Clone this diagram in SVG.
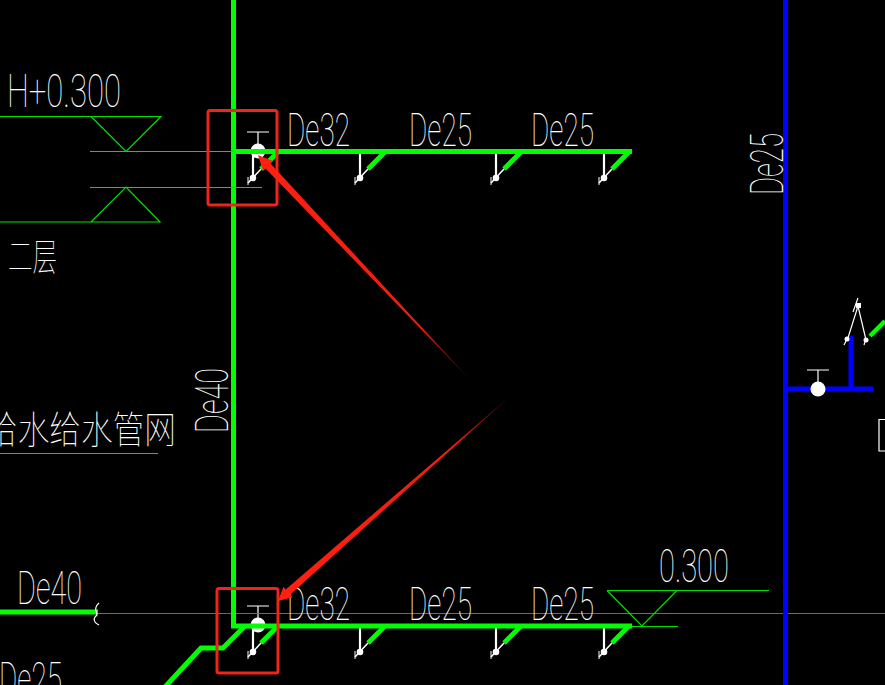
<svg xmlns="http://www.w3.org/2000/svg" width="885" height="685" viewBox="0 0 885 685">
<style>
.t{font-family:"Roboto","Liberation Sans",sans-serif;font-weight:100;font-size:46px;fill:#fff}
.c{font-family:"Noto Sans CJK SC",sans-serif;font-weight:100;font-size:38px;fill:#fff}
.g{stroke:#00ff00;stroke-width:5;fill:none}
.b{stroke:#0000ff;stroke-width:5;fill:none}
.tg{stroke:#00e000;stroke-width:1.2;fill:none}
.m{stroke:#c828c8;stroke-width:1;fill:none}
.w{stroke:#fff;stroke-width:1.2;fill:none}
.r{fill:none;stroke:#f02418;stroke-width:3}
</style>
<defs>
<linearGradient id="fa" gradientUnits="userSpaceOnUse" x1="262" y1="160" x2="475" y2="385"><stop offset="0" stop-color="#ff2010"/><stop offset="0.75" stop-color="#f01c10"/><stop offset="1" stop-color="#100000"/></linearGradient>
<linearGradient id="fb" gradientUnits="userSpaceOnUse" x1="282" y1="596" x2="515" y2="392"><stop offset="0" stop-color="#ff2010"/><stop offset="0.75" stop-color="#f01c10"/><stop offset="1" stop-color="#100000"/></linearGradient>
<g id="branch">
<path d="M0 0V22" stroke="#fff" stroke-width="2.200" fill="none"/>
<path d="M25-2L8 15" stroke="#00ff00" stroke-width="5" fill="none"/>
<path d="M8 15L-5 29" stroke="#fff" stroke-width="1.500" fill="none"/>
<circle cx="0" cy="24" r="3.300" fill="#fff"/>
<path d="M-5 23V31" stroke="#fff" stroke-width="1" fill="none"/>
</g>
<g id="valve">
<circle cx="0" cy="0" r="7.500" fill="#fff"/>
<path d="M0-7V-19M-11-19H11" stroke="#fff" stroke-width="1.200" fill="none"/>
</g>
</defs>
<rect width="885" height="685" fill="#000"/>
<g id="fixtures-top">
<use href="#valve" x="258" y="151"/>
<use href="#branch" x="253" y="154"/><use href="#branch" x="360" y="154"/><use href="#branch" x="496" y="154"/><use href="#branch" x="604" y="154"/>
</g>
<g id="fixtures-bottom">
<use href="#valve" x="258" y="625"/>
<use href="#branch" x="253" y="628"/><use href="#branch" x="360" y="628"/><use href="#branch" x="496" y="628"/><use href="#branch" x="604" y="628"/>
</g>
<g id="connectors">
<path class="m" d="M98 613.500H885"/>
<path class="g" d="M233.500 0V626H632"/>
<path class="g" d="M233.500 151.500H632"/>
<path class="g" d="M0 612H98"/>
<path class="g" d="M164 688L201 648H223L245 626"/>
<path class="b" d="M785.500 0V685"/>
<path class="b" d="M785 389H873"/>
<path class="b" d="M851 336V389"/>
<path d="M870 336L885 321" stroke="#00ff00" stroke-width="4.500" fill="none"/>
<path class="tg" d="M0 116.500H161L126 151.500L91 116.500M90 151.500H233"/>
<path class="tg" d="M0 222H160L126 187L91 222M90 187.500H262"/>
<path class="tg" d="M607 590.500H769M607 590.500L642 626L677 590.500M632 626.500H678"/>
<path class="tg" d="M0 453.500H158"/>
</g>
<g id="fixtures-right">
<use href="#valve" x="818" y="389"/>
<path class="w" d="M847 341L858 306L866 340M844 345L847 339M864 345L866 338M853 312L858 298"/>
<circle cx="847" cy="339" r="2.500" fill="#fff"/><circle cx="866" cy="340" r="2.500" fill="#fff"/><rect x="856" y="303" width="5" height="5" fill="#fff"/>
<path class="w" d="M885 419.500H879V451H885"/>
<path class="w" d="M99 603C93 608 97 612 97 615C93 618 93 622 99 625"/>
</g>
<g id="labels">
<text class="t" x="7" y="107" textLength="114" lengthAdjust="spacingAndGlyphs">H+0.300</text>
<text class="t" x="287" y="146" textLength="63" lengthAdjust="spacingAndGlyphs">De32</text>
<text class="t" x="409" y="146" textLength="63" lengthAdjust="spacingAndGlyphs">De25</text>
<text class="t" x="531" y="146" textLength="63" lengthAdjust="spacingAndGlyphs">De25</text>
<text class="t" x="287" y="620" textLength="63" lengthAdjust="spacingAndGlyphs">De32</text>
<text class="t" x="409" y="620" textLength="63" lengthAdjust="spacingAndGlyphs">De25</text>
<text class="t" x="531" y="620" textLength="63" lengthAdjust="spacingAndGlyphs">De25</text>
<text class="t" x="17" y="604" textLength="65" lengthAdjust="spacingAndGlyphs">De40</text>
<text class="t" x="-1" y="695" textLength="63" lengthAdjust="spacingAndGlyphs">De25</text>
<text class="t" x="659" y="582" textLength="70" lengthAdjust="spacingAndGlyphs">0.300</text>
<text class="t" transform="translate(228 433) rotate(-90)" textLength="65" lengthAdjust="spacingAndGlyphs">De40</text>
<text class="t" transform="translate(783 195) rotate(-90)" textLength="62" lengthAdjust="spacingAndGlyphs">De25</text>
<text class="c" x="8" y="270" textLength="49" lengthAdjust="spacingAndGlyphs">二层</text>
<text class="c" x="-14" y="443" textLength="190" lengthAdjust="spacingAndGlyphs">给水给水管网</text>
</g>
<g id="callouts">
<rect class="r" x="208" y="110.500" width="69" height="94.500" rx="2"/>
<rect class="r" x="217" y="588.500" width="61" height="84.500" rx="2"/>
<path fill="url(#fa)" d="M258 155L273 161L270.500 163.600L476 386L265.500 168.400L263 171Z"/>
<path fill="url(#fb)" d="M278 601L283.400 586.800L285.700 589.400L516 391L290.300 594.600L292.600 597.300Z"/>
</g>
</svg>
